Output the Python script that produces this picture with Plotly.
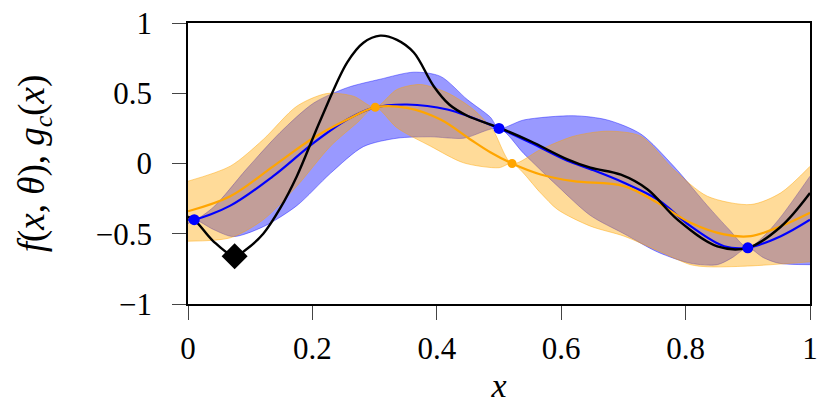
import plotly.graph_objects as go

# true function f(x, theta)
true_x = [0.0, 0.01, 0.04, 0.075, 0.094, 0.121, 0.148, 0.175, 0.213, 0.256, 0.282, 0.309, 0.336, 0.363,
          0.395, 0.42, 0.449, 0.50, 0.55, 0.61, 0.647, 0.696, 0.739, 0.787, 0.851, 0.90, 0.953, 1.0]
true_y = [-0.38, -0.40, -0.55, -0.66, -0.61, -0.50, -0.32, -0.09, 0.31, 0.72, 0.86, 0.91, 0.88, 0.79,
          0.55, 0.42, 0.34, 0.255, 0.16, 0.03, -0.03, -0.08, -0.185, -0.40, -0.59, -0.60, -0.45, -0.21]

# blue model: mean and band
blue_x = [0.0, 0.01, 0.068, 0.137, 0.202, 0.256, 0.298, 0.352, 0.417, 0.50, 0.55, 0.61, 0.647,
          0.701, 0.755, 0.808, 0.862, 0.90, 0.953, 1.0]
blue_y = [-0.40, -0.40, -0.30, -0.09, 0.147, 0.313, 0.396, 0.42, 0.384, 0.25, 0.15, 0.02, -0.04,
          -0.137, -0.256, -0.446, -0.589, -0.60, -0.517, -0.40]
blue_up_x = [0.0, 0.01, 0.041, 0.094, 0.148, 0.202, 0.256, 0.309, 0.363, 0.406, 0.449, 0.486, 0.50,
             0.54, 0.62, 0.674, 0.728, 0.781, 0.835, 0.87, 0.90, 0.925, 0.953, 1.0]
blue_up_y = [-0.37, -0.40, -0.31, -0.04, 0.22, 0.43, 0.54, 0.60, 0.65, 0.62, 0.455, 0.33, 0.25,
             0.31, 0.34, 0.31, 0.21, -0.02, -0.30, -0.47, -0.60, -0.52, -0.38, -0.09]
blue_lo_x = [0.0, 0.01, 0.041, 0.073, 0.121, 0.175, 0.229, 0.282, 0.336, 0.39, 0.443, 0.50, 0.54,
             0.594, 0.647, 0.701, 0.755, 0.808, 0.851, 0.875, 0.90, 0.925, 0.95, 1.0]
blue_lo_y = [-0.43, -0.40, -0.47, -0.52, -0.45, -0.30, -0.07, 0.12, 0.18, 0.19, 0.18, 0.25, 0.07,
             -0.16, -0.37, -0.50, -0.63, -0.71, -0.72, -0.67, -0.60, -0.67, -0.71, -0.72]
blue_pts_x = [0.01, 0.50, 0.90]
blue_pts_y = [-0.40, 0.25, -0.60]

# orange model: mean and band
orange_x = [0.0, 0.068, 0.137, 0.202, 0.256, 0.301, 0.352, 0.406, 0.454, 0.486, 0.521, 0.567, 0.62,
            0.701, 0.755, 0.808, 0.862, 0.905, 0.953, 1.0]
orange_y = [-0.34, -0.233, -0.02, 0.183, 0.313, 0.40, 0.396, 0.313, 0.171, 0.08, 0.0, -0.078, -0.126,
            -0.161, -0.28, -0.422, -0.505, -0.517, -0.446, -0.35]
orange_up_x = [0.0, 0.068, 0.121, 0.175, 0.223, 0.266, 0.301, 0.336, 0.374, 0.417, 0.459, 0.49, 0.521,
               0.567, 0.62, 0.674, 0.728, 0.781, 0.835, 0.905, 0.953, 1.0]
orange_up_y = [-0.126, -0.019, 0.171, 0.408, 0.498, 0.479, 0.40, 0.527, 0.562, 0.503, 0.384, 0.24, 0.0,
               0.10, 0.194, 0.23, 0.194, -0.043, -0.233, -0.292, -0.209, -0.02]
orange_lo_x = [0.0, 0.068, 0.121, 0.175, 0.229, 0.272, 0.301, 0.336, 0.39, 0.443, 0.50, 0.521, 0.567,
               0.594, 0.647, 0.701, 0.755, 0.808, 0.835, 0.9, 1.0]
orange_lo_y = [-0.553, -0.529, -0.40, -0.161, 0.123, 0.29, 0.40, 0.254, 0.123, 0.005, -0.03, 0.0, -0.21,
               -0.327, -0.446, -0.517, -0.62, -0.72, -0.735, -0.73, -0.70]
orange_pts_x = [0.301, 0.521]
orange_pts_y = [0.40, 0.0]

best_x = [0.075]
best_y = [-0.66]

tick_vals_x = [0, 0.2, 0.4, 0.6, 0.8, 1]
tick_text_x = ['0', '0.2', '0.4', '0.6', '0.8', '1']
tick_vals_y = [-1, -0.5, 0, 0.5, 1]
tick_text_y = ['\u22121', '\u22120.5', '0', '0.5', '1']

SERIF = 'Liberation Serif'

fig = go.Figure()


def add_band(lo_x, lo_y, up_x, up_y, color, fill):
    fig.add_trace(go.Scatter(x=lo_x, y=lo_y, mode='lines', line=dict(color=color, width=1, shape='spline', smoothing=0.8),
                             showlegend=False, hoverinfo='skip'))
    fig.add_trace(go.Scatter(x=up_x, y=up_y, mode='lines', line=dict(color=color, width=1, shape='spline', smoothing=0.8),
                             fill='tonexty', fillcolor=fill, showlegend=False, hoverinfo='skip'))


# bands (orange drawn over blue gives the brown overlap)
add_band(blue_lo_x, blue_lo_y, blue_up_x, blue_up_y, 'rgba(0,0,255,0.4)', 'rgba(0,0,255,0.4)')
add_band(orange_lo_x, orange_lo_y, orange_up_x, orange_up_y, 'rgba(255,165,0,0.45)', 'rgba(255,165,0,0.4)')

# means
fig.add_trace(go.Scatter(x=blue_x, y=blue_y, mode='lines', line=dict(color='blue', width=2.2, shape='spline'),
                         showlegend=False))
fig.add_trace(go.Scatter(x=orange_x, y=orange_y, mode='lines', line=dict(color='orange', width=2.2, shape='spline'),
                         showlegend=False))
fig.add_trace(go.Scatter(x=true_x, y=true_y, mode='lines', line=dict(color='black', width=2.4, shape='spline'),
                         showlegend=False))

# observations
fig.add_trace(go.Scatter(x=orange_pts_x, y=orange_pts_y, mode='markers',
                         marker=dict(color='orange', size=9), showlegend=False))
fig.add_trace(go.Scatter(x=blue_pts_x, y=blue_pts_y, mode='markers',
                         marker=dict(color='blue', size=11), showlegend=False))
fig.add_trace(go.Scatter(x=best_x, y=best_y, mode='markers',
                         marker=dict(color='black', size=20, symbol='diamond'), showlegend=False))

axis_style = dict(
    showline=True, linecolor='black', linewidth=1.5, mirror=True,
    showgrid=False, zeroline=False, automargin=False,
    ticks='outside', ticklen=14, tickwidth=1, tickcolor='#444',
    tickfont=dict(family=SERIF, size=31, color='black'),
)
fig.update_xaxes(range=[0, 1], tickvals=tick_vals_x, ticktext=tick_text_x, ticklabelstandoff=2,
                 title=dict(text='<i>x</i>', standoff=8, font=dict(family=SERIF, size=34, color='black')),
                 **axis_style)
fig.update_yaxes(range=[-1, 1], tickvals=tick_vals_y, ticktext=tick_text_y, ticklabelstandoff=14,
                 title=dict(text='<i>f</i>(<i>x</i>, <i>θ</i>), <i>g<sub>c</sub></i>(<i>x</i>)', standoff=40,
                            font=dict(family=SERIF, size=37, color='black')),
                 **axis_style)

fig.update_layout(
    width=831, height=409,
    margin=dict(l=188, r=21, t=23, b=105),
    plot_bgcolor='white',
    paper_bgcolor='white',
    font=dict(family=SERIF, size=31, color='black'),
)

# drop the default page margin so the figure fills the window exactly
fig.write_html("out.html", config={'displayModeBar': False},
               post_script="document.body.style.margin='0';document.body.style.overflow='hidden';")
